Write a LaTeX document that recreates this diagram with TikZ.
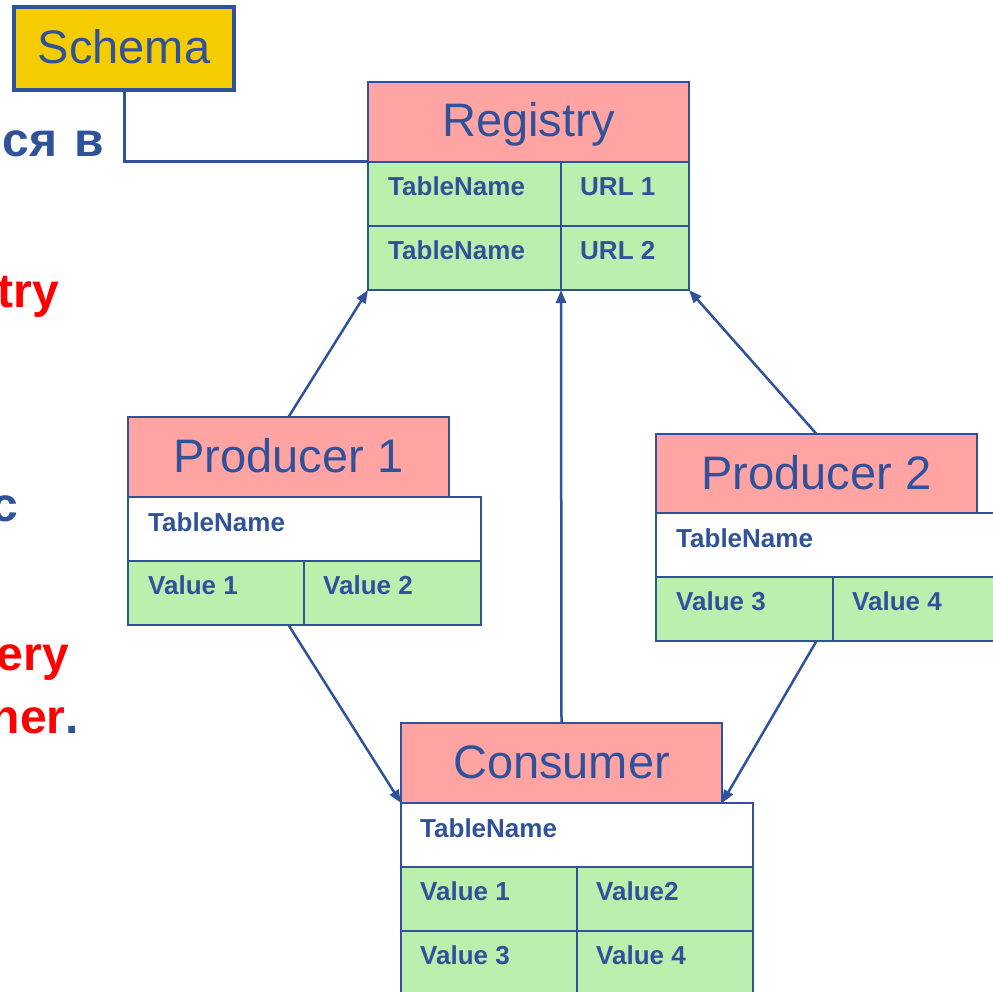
\documentclass[tikz,border=0pt]{standalone}
\usepackage{fontspec}
\setmainfont{Liberation Sans}
\usetikzlibrary{arrows.meta}
\definecolor{ink}{RGB}{47,82,155}
\definecolor{hdrpink}{RGB}{255,163,163}
\definecolor{cellgreen}{RGB}{185,240,174}
\definecolor{schemagold}{RGB}{245,204,0}
\definecolor{alertred}{RGB}{255,0,0}

\begin{document}
\begin{tikzpicture}[x=1pt,y=-1pt,
  box/.style={draw=ink, line width=2.6pt, anchor=north west, inner sep=0pt, outer sep=0pt},
  hdr/.style={box, fill=hdrpink, minimum width=321pt, minimum height=80pt, text=ink,
    font=\fontsize{47}{56}\selectfont, text height=34pt, text depth=4pt},
  cell/.style={box, fill=cellgreen, minimum height=64pt},
  namerow/.style={box, fill=white, minimum height=64pt},
  celltext/.style={anchor=base west, inner sep=0pt, text=ink, font=\bfseries\fontsize{26}{30}\selectfont},
  link/.style={draw=ink, line width=2.5pt, -{Triangle[length=13pt,width=10pt]}},
  side/.style={anchor=base east, inner sep=0pt, font=\bfseries\fontsize{48}{56}\selectfont},
]
\useasboundingbox (0,0) rectangle (993,992);
\clip (0,0) rectangle (993,992);

% side text, running off the left edge
\node[side, text=ink] (t1) at (104,157) {с\kern1pt я\kern3pt\ в};
\node[side, text=alertred] (t2) at (59,308) {try};
\node[side, text=ink] (t3) at (18,521) {с};
\node[side, text=alertred] (t4) at (69,670) {ery};
\node[side] (t5) at (79,733) {\textcolor{alertred}{ner}\textcolor{ink}{.}};

% Registry
\node[hdr] (reg) at (368,82) {Registry};
\node[cell, minimum width=193pt] (regA1) at (368,162) {};
\node[cell, minimum width=128pt] (regA2) at (561,162) {};
\node[cell, minimum width=193pt] (regB1) at (368,226) {};
\node[cell, minimum width=128pt] (regB2) at (561,226) {};
\node[celltext] at ([shift={(20,34)}]regA1.north west) {TableName};
\node[celltext] at ([shift={(19,34)}]regA2.north west) {URL 1};
\node[celltext] at ([shift={(20,34)}]regB1.north west) {TableName};
\node[celltext] at ([shift={(19,34)}]regB2.north west) {URL 2};

% Producer 1
\node[hdr] (p1) at (128,417) {Producer 1};
\node[namerow, minimum width=353pt] (p1name) at (128,497) {};
\node[cell, minimum width=176pt] (p1v1) at (128,561) {};
\node[cell, minimum width=177pt] (p1v2) at (304,561) {};
\node[celltext] at ([shift={(20,34)}]p1name.north west) {TableName};
\node[celltext] at ([shift={(20,33)}]p1v1.north west) {Value 1};
\node[celltext] at ([shift={(19,33)}]p1v2.north west) {Value 2};

% Producer 2
\node[hdr] (p2) at (656,434) {Producer 2};
\node[namerow, minimum width=353pt] (p2name) at (656,513) {};
\node[cell, minimum width=177pt] (p2v1) at (656,577) {};
\node[cell, minimum width=176pt] (p2v2) at (833,577) {};
\node[celltext] at ([shift={(20,34)}]p2name.north west) {TableName};
\node[celltext] at ([shift={(20,33)}]p2v1.north west) {Value 3};
\node[celltext] at ([shift={(19,33)}]p2v2.north west) {Value 4};

% Consumer
\node[hdr] (con) at (401,723) {Consumer};
\node[namerow, minimum width=352pt] (conname) at (401,803) {};
\node[cell, minimum width=176pt] (conv1) at (401,867) {};
\node[cell, minimum width=176pt] (conv2) at (577,867) {};
\node[cell, minimum width=176pt] (conv3) at (401,931) {};
\node[cell, minimum width=176pt] (conv4) at (577,931) {};
\node[celltext] at ([shift={(19,34)}]conname.north west) {TableName};
\node[celltext] at ([shift={(19,33)}]conv1.north west) {Value 1};
\node[celltext] at ([shift={(19,33)}]conv2.north west) {Value2};
\node[celltext] at ([shift={(19,33)}]conv3.north west) {Value 3};
\node[celltext] at ([shift={(19,33)}]conv4.north west) {Value 4};

% Schema tag
\node[draw=ink, line width=4pt, fill=schemagold, minimum width=220pt, minimum height=83pt,
  anchor=north west, outer sep=0pt, inner sep=0pt, text=ink,
  font=\fontsize{47}{56}\selectfont, text height=34pt, text depth=4pt] (schema) at (14,7) {Schema};
\draw[ink, line width=3pt] (schema.south) |- (regA1.north west);

% connectors
\coordinate (p1out) at (p1.center |- p1v1.south);
\coordinate (p2out) at (p2.center |- p2v1.south);
\draw[link] (p1.north) -- (regB1.south west);
\draw[link] (con.north) -- (regB1.south east);
\draw[link] (p2.north) -- (regB2.south east);
\draw[link] (p1out) -- (con.south west);
\draw[link] (p2out) -- (con.south east);
\end{tikzpicture}
\end{document}
